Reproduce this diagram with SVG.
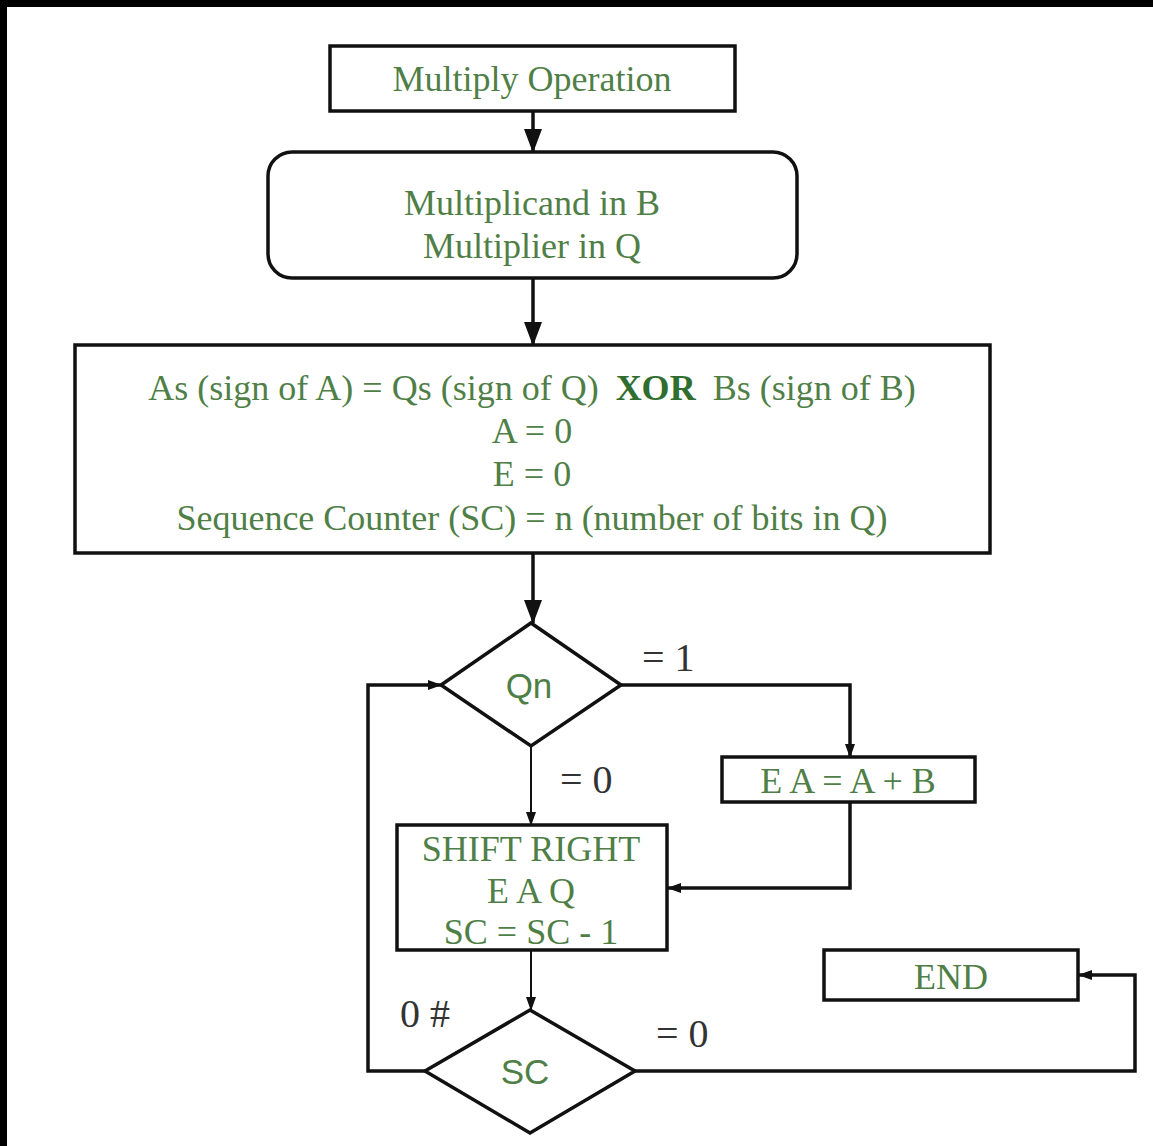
<svg xmlns="http://www.w3.org/2000/svg" width="1153" height="1146" viewBox="0 0 1153 1146">
<style>
.box{fill:#fff;stroke:#111;stroke-width:3.5}
.t{font-family:"Liberation Serif","Times New Roman",serif;font-size:36px;fill:#4f7f47;text-anchor:middle}
.s{font-family:"Liberation Sans",Arial,sans-serif;font-size:35px;fill:#4f7f47;text-anchor:middle}
.lbl{font-family:"Liberation Serif","Times New Roman",serif;font-size:40px;fill:#333}
.c{fill:none;stroke:#111;stroke-width:3.5}
.cthin{fill:none;stroke:#111;stroke-width:2}
</style>
<defs>
<marker id="big" markerWidth="24" markerHeight="18" refX="23" refY="9" orient="auto" markerUnits="userSpaceOnUse" viewBox="0 0 24 18">
<path d="M0,0 L24,9 L0,18 Z" fill="#111"/>
</marker>
<marker id="small" markerWidth="14" markerHeight="10" refX="13" refY="5" orient="auto" markerUnits="userSpaceOnUse" viewBox="0 0 14 10">
<path d="M0,0 L14,5 L0,10 Z" fill="#111"/>
</marker>
</defs>
<rect width="1153" height="1146" fill="#fff"/>
<rect x="0" y="0" width="1153" height="7" fill="#000"/>
<rect x="0" y="0" width="7" height="1146" fill="#000"/>

<g id="connectors">
<line class="c" x1="533" y1="111" x2="533" y2="152" marker-end="url(#big)"/>
<line class="c" x1="533" y1="278" x2="533" y2="345" marker-end="url(#big)"/>
<line class="c" x1="533" y1="553" x2="533" y2="623" marker-end="url(#big)"/>
<polyline class="c" points="621,685 850,685 850,757" marker-end="url(#small)"/>
<polyline class="c" points="850,802 850,888 668,888" marker-end="url(#small)"/>
<line class="cthin" x1="531" y1="746" x2="531" y2="825" marker-end="url(#small)"/>
<line class="cthin" x1="531" y1="950" x2="531" y2="1010" marker-end="url(#small)"/>
<polyline class="c" points="425,1071 368,1071 368,685 441,685" marker-end="url(#small)"/>
<polyline class="c" points="635,1071 1135,1071 1135,975 1079,975" marker-end="url(#small)"/>
<text class="lbl" x="642" y="671">= 1</text>
<text class="lbl" x="560" y="793">= 0</text>
<text class="lbl" x="400" y="1027">0 #</text>
<text class="lbl" x="656" y="1047">= 0</text>
</g>

<g id="start">
<rect class="box" x="330" y="46" width="405" height="65"/>
<text class="t" x="532" y="91">Multiply Operation</text>
</g>

<g id="init">
<rect class="box" x="268" y="152" width="529" height="126" rx="24"/>
<text class="t" x="532" y="215">Multiplicand in B</text>
<text class="t" x="532" y="258">Multiplier in Q</text>
</g>

<g id="setup">
<rect class="box" x="75" y="345" width="915" height="208"/>
<text class="t" x="532" y="400">As (sign of A) = Qs (sign of Q) <tspan font-weight="bold" fill="#2f6e2f" dx="8">XOR</tspan> <tspan dx="8">Bs (sign of B)</tspan></text>
<text class="t" x="532" y="443">A = 0</text>
<text class="t" x="532" y="486">E = 0</text>
<text class="t" x="532" y="530">Sequence Counter (SC) = n (number of bits in Q)</text>
</g>

<g id="qn">
<polygon class="box" points="531,623 621,685 531,746 441,685"/>
<text class="s" x="529" y="698">Qn</text>
</g>

<g id="add">
<rect class="box" x="722" y="757" width="253" height="45"/>
<text class="t" x="848" y="793">E A = A + B</text>
</g>

<g id="shift">
<rect class="box" x="397" y="825" width="270" height="125"/>
<text class="t" x="531" y="861">SHIFT RIGHT</text>
<text class="t" x="531" y="903">E A Q</text>
<text class="t" x="531" y="944">SC = SC - 1</text>
</g>

<g id="sc">
<polygon class="box" points="530,1010 635,1071 530,1133 425,1071"/>
<text class="s" x="525" y="1084">SC</text>
</g>

<g id="end">
<rect class="box" x="824" y="950" width="254" height="50"/>
<text class="t" x="951" y="989">END</text>
</g>
</svg>
